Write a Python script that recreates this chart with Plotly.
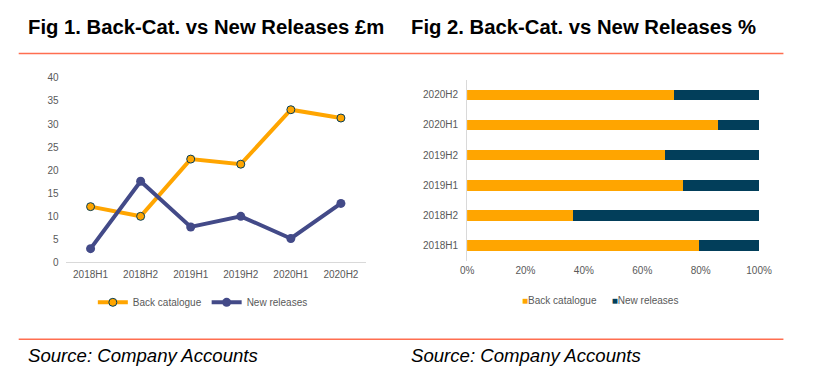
import plotly.graph_objects as go

periods = ["2018H1", "2018H2", "2019H1", "2019H2", "2020H1", "2020H2"]
back_cat_m = [12.1, 10.0, 22.4, 21.3, 33.1, 31.3]
new_rel_m = [3.0, 17.6, 7.7, 10.0, 5.2, 12.8]
back_cat_pct = [79.3, 36.2, 73.9, 67.9, 86.0, 70.9]
new_rel_pct = [20.7, 63.8, 26.1, 32.1, 14.0, 29.1]
y_ticks = [0, 5, 10, 15, 20, 25, 30, 35, 40]
pct_ticks = [0, 20, 40, 60, 80, 100]
pct_labels = ["0%", "20%", "40%", "60%", "80%", "100%"]

ORANGE = "#FFA500"
NAVY = "#434A88"
TEAL = "#023E5A"
RED = "#FF6E50"
GREY = "#595959"
FONT = "Liberation Sans, Arial, sans-serif"

W, H = 813, 388

fig = go.Figure()

fig.add_trace(go.Scatter(
    x=periods, y=back_cat_m, name="Back catalogue", mode="lines+markers",
    line=dict(color=ORANGE, width=4),
    marker=dict(color=ORANGE, size=8, line=dict(color=TEAL, width=1)),
    xaxis="x", yaxis="y", legend="legend"))
fig.add_trace(go.Scatter(
    x=periods, y=new_rel_m, name="New releases", mode="lines+markers",
    line=dict(color=NAVY, width=4),
    marker=dict(color=NAVY, size=9),
    xaxis="x", yaxis="y", legend="legend"))

fig.add_trace(go.Bar(
    y=periods, x=back_cat_pct, orientation="h", name="Back catalogue",
    marker=dict(color=ORANGE, line=dict(width=0)), showlegend=False,
    xaxis="x2", yaxis="y2"))
fig.add_trace(go.Bar(
    y=periods, x=new_rel_pct, orientation="h", name="New releases",
    marker=dict(color=TEAL, line=dict(width=0)), showlegend=False,
    xaxis="x2", yaxis="y2"))
# legend entries for the bar chart: small coloured square glyph before the text
for nm, col, lg in [("Back catalogue", ORANGE, "legend2"),
                    ("New releases", TEAL, "legend3")]:
    fig.add_trace(go.Scatter(
        x=[None], y=[None], mode="markers",
        name=f'<span style="color:{col}">■</span>{nm}',
        marker=dict(symbol="square", size=1, color="rgba(0,0,0,0)"),
        xaxis="x2", yaxis="y2", legend=lg))

def px(x):
    return x / W

def py(y):
    return 1 - y / H

tickfont = dict(family=FONT, size=10, color=GREY)
legfont = dict(family=FONT, size=10, color=GREY)

fig.update_layout(
    width=W, height=H,
    margin=dict(l=0, r=0, t=0, b=0),
    paper_bgcolor="white", plot_bgcolor="white",
    font=dict(family=FONT, color=GREY),
    barmode="stack", bargap=0.65,
    showlegend=True,
    xaxis=dict(domain=[px(60), px(368)], type="category", range=[-0.5, 5.5],
               showline=True, linecolor="#D9D9D9", linewidth=1,
               showgrid=False, zeroline=False, ticks="", tickfont=tickfont,
               ticklabelstandoff=3, fixedrange=True),
    yaxis=dict(domain=[py(265), py(75)], range=[0, 40], tickvals=y_ticks,
               showgrid=False, zeroline=False, showline=False, ticks="",
               tickfont=tickfont, ticklabelstandoff=6, anchor="x",
               fixedrange=True),
    xaxis2=dict(domain=[px(471.7), px(771)], range=[0, 100],
                tickvals=pct_ticks, ticktext=pct_labels,
                showgrid=False, zeroline=False, showline=False, ticks="",
                tickfont=tickfont, anchor="y2", ticklabelstandoff=2,
                fixedrange=True),
    yaxis2=dict(domain=[py(263), py(77)], type="category",
                categoryorder="array", categoryarray=periods, range=[-0.5, 5.5],
                showline=True, linecolor="#D9D9D9", linewidth=1,
                showgrid=False, zeroline=False, ticks="", tickfont=tickfont,
                ticklabelstandoff=6, anchor="x2", fixedrange=True),
    legend=dict(orientation="h", x=px(88), y=py(306), xanchor="left",
                yanchor="middle", font=legfont, itemwidth=30,
                traceorder="normal", bgcolor="rgba(0,0,0,0)"),
    legend2=dict(orientation="h", x=px(530 - 43), y=py(304), xanchor="left",
                 yanchor="middle", font=legfont, itemwidth=30,
                 bgcolor="rgba(0,0,0,0)"),
    legend3=dict(orientation="h", x=px(622 - 43), y=py(304), xanchor="left",
                 yanchor="middle", font=legfont, itemwidth=30,
                 bgcolor="rgba(0,0,0,0)"),
)

annos = [
    dict(text="<b>Fig 1. Back-Cat. vs New Releases £m</b>", x=px(19), y=py(23),
         font=dict(family=FONT, size=20.3, color="black")),
    dict(text="<b>Fig 2. Back-Cat. vs New Releases %</b>", x=px(412), y=py(23),
         font=dict(family=FONT, size=20.3, color="black")),
    dict(text="<i>Source: Company Accounts</i>", x=px(19), y=py(361),
         font=dict(family=FONT, size=18.6, color="black")),
    dict(text="<i>Source: Company Accounts</i>", x=px(412), y=py(361),
         font=dict(family=FONT, size=18.6, color="black")),
]
for a in annos:
    fig.add_annotation(xref="paper", yref="paper", xanchor="left",
                       yanchor="middle", showarrow=False, **a)

for yy in (50, 344):
    fig.add_shape(type="line", xref="paper", yref="paper",
                  x0=px(12), x1=px(796), y0=py(yy), y1=py(yy),
                  line=dict(color=RED, width=1.5))

fig.write_html(
    "out.html",
    config={"displayModeBar": False},
    post_script="document.body.style.margin='0';document.body.style.overflow='hidden';",
)
